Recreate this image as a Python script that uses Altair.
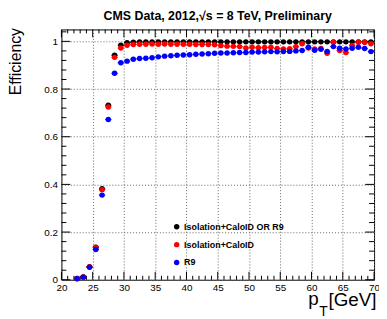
import altair as alt
import pandas as pd

# ---- data ----
pt_bins = [22.5, 23.5, 24.5, 25.5, 26.5, 27.5, 28.5, 29.5,
           30.5, 31.5, 32.5, 33.5, 34.5, 35.5, 36.5, 37.5, 38.5, 39.5,
           40.5, 41.5, 42.5, 43.5, 44.5, 45.5, 46.5, 47.5, 48.5, 49.5,
           50.5, 51.5, 52.5, 53.5, 54.5, 55.5, 56.5, 57.5, 58.5, 59.5,
           60.5, 61.5, 62.5, 63.5, 64.5, 65.5, 66.5, 67.5, 68.5, 69.5]

eff_or = [0.005, 0.012, 0.055, 0.137, 0.382, 0.732, 0.942, 0.984,
          0.994, 0.996, 0.997, 0.997, 0.997, 0.998, 0.998, 0.998, 0.998, 0.998,
          0.998, 0.998, 0.998, 0.998, 0.998, 0.998, 0.998, 0.998, 0.998, 0.998,
          0.998, 0.998, 0.998, 0.998, 0.998, 0.998, 0.998, 0.998, 0.998, 0.998,
          0.998, 0.998, 0.998, 0.998, 0.998, 0.998, 0.998, 0.998, 0.998, 0.998]

eff_iso = [0.005, 0.012, 0.054, 0.135, 0.378, 0.725, 0.933, 0.972,
           0.984, 0.987, 0.988, 0.988, 0.989, 0.988, 0.989, 0.988, 0.988, 0.988,
           0.988, 0.987, 0.987, 0.987, 0.986, 0.982, 0.980, 0.979, 0.978, 0.972,
           0.975, 0.973, 0.974, 0.975, 0.970, 0.968, 0.969, 0.978, 0.990, 0.972,
           0.968, 0.970, 0.950, 0.996, 0.962, 0.953, 0.983, 0.996, 0.995, 0.990]

eff_r9 = [0.004, 0.011, 0.052, 0.127, 0.355, 0.672, 0.866, 0.910,
          0.917, 0.925, 0.928, 0.929, 0.931, 0.935, 0.938, 0.940, 0.942, 0.943,
          0.944, 0.946, 0.947, 0.948, 0.950, 0.951, 0.951, 0.952, 0.953, 0.953,
          0.955, 0.955, 0.956, 0.957, 0.956, 0.957, 0.958, 0.960, 0.962, 0.975,
          0.963, 0.967, 0.958, 0.978, 0.971, 0.968, 0.971, 0.975, 0.970, 0.957]

series_names = ["Isolation+CaloID OR R9", "Isolation+CaloID", "R9"]
series_colors = ["#000000", "#ff0000", "#0000ff"]

x_major = [20, 25, 30, 35, 40, 45, 50, 55, 60, 65, 70]
x_minor = [21, 22, 23, 24, 26, 27, 28, 29, 31, 32, 33, 34, 36, 37, 38, 39,
           41, 42, 43, 44, 46, 47, 48, 49, 51, 52, 53, 54, 56, 57, 58, 59,
           61, 62, 63, 64, 66, 67, 68, 69]
y_major = [0, 0.2, 0.4, 0.6, 0.8, 1.0]
y_minor = [0.04, 0.08, 0.12, 0.16, 0.24, 0.28, 0.32, 0.36, 0.44, 0.48, 0.52,
           0.56, 0.64, 0.68, 0.72, 0.76, 0.84, 0.88, 0.92, 0.96, 1.04]

rows = []
for name, vals in zip(series_names, [eff_or, eff_iso, eff_r9]):
    for p, v in zip(pt_bins, vals):
        rows.append({"pt": p, "eff": v, "series": name})
df = pd.DataFrame(rows)

W, H = 316, 253
FONT = "Liberation Sans"

xscale = alt.Scale(domain=[20, 70], nice=False, zero=False)
yscale = alt.Scale(domain=[0, 1.05], nice=False)

X_AX = alt.Axis(values=x_major, title="[GeV]", labelFlush=False, labelOverlap=False,
                labelPadding=3, titleFontSize=19, titleFont=FONT, titleFontWeight="normal",
                titleAnchor="end", titleAlign="right", titleX=W + 2, titleY=26,
                titleBaseline="alphabetic", titleColor="black")
Y_AX = alt.Axis(values=y_major, format=".1~f", title="Efficiency", labelPadding=4,
                titleFontSize=16, titleFont=FONT, titleFontWeight="normal",
                titleAngle=-90, titleAlign="right", titleBaseline="alphabetic",
                titleX=-41, titleY=-2, titleColor="black")

color_err = alt.Color("series:N", scale=alt.Scale(domain=series_names, range=series_colors),
                      legend=None)
color_pts = alt.Color("series:N", scale=alt.Scale(domain=series_names, range=series_colors),
                      legend=alt.Legend(orient="none", legendX=112, legendY=195, title=None,
                                        labelFont=FONT, labelFontWeight="bold", labelFontSize=9,
                                        labelColor="black", symbolType="circle", symbolSize=30,
                                        symbolStrokeWidth=0, rowPadding=8, labelOffset=3,
                                        padding=0))

errs = alt.Chart(df).transform_calculate(
    lo="datum.pt - 0.5", hi="datum.pt + 0.5"
).mark_rule(strokeWidth=1).encode(
    x=alt.X("lo:Q", scale=xscale, axis=X_AX),
    x2="hi:Q",
    y=alt.Y("eff:Q", scale=yscale, axis=Y_AX),
    color=color_err,
)

pts = alt.Chart(df).mark_point(filled=True, shape="circle", size=30, opacity=1).encode(
    x=alt.X("pt:Q", scale=xscale, axis=X_AX),
    y=alt.Y("eff:Q", scale=yscale, axis=Y_AX),
    color=color_pts,
)

def xticks(vals, y0, y1):
    return alt.Chart(pd.DataFrame({"v": vals})).mark_rule(color="black", strokeWidth=1).encode(
        x=alt.X("v:Q", scale=xscale, axis=X_AX), y=alt.value(y0), y2=alt.value(y1))

def yticks(vals, x0, x1):
    return alt.Chart(pd.DataFrame({"v": vals})).mark_rule(color="black", strokeWidth=1).encode(
        y=alt.Y("v:Q", scale=yscale, axis=Y_AX), x=alt.value(x0), x2=alt.value(x1))

ticks = [
    xticks(x_major, H, H - 8), xticks(x_minor, H, H - 4),
    xticks(x_major, 0, 8), xticks(x_minor, 0, 4),
    yticks(y_major, 0, 9), yticks(y_minor, 0, 5),
    yticks(y_major, W, W - 9), yticks(y_minor, W, W - 5),
]

p_txt = alt.Chart(pd.DataFrame({"t": ["p"]})).mark_text(
    font=FONT, fontSize=19, align="right", baseline="alphabetic", color="black"
).encode(text="t:N", x=alt.value(260), y=alt.value(H + 26))
t_txt = alt.Chart(pd.DataFrame({"t": ["T"]})).mark_text(
    font=FONT, fontSize=14, align="left", baseline="alphabetic", color="black"
).encode(text="t:N", x=alt.value(260.5), y=alt.value(H + 37))

chart = alt.layer(
    *ticks, errs, pts, p_txt, t_txt
).resolve_scale(color="independent").properties(
    width=W, height=H,
    title=alt.TitleParams("CMS Data, 2012,\u221as = 8 TeV, Preliminary", font=FONT, fontSize=12.5,
                          fontWeight="bold", anchor="middle", offset=5, color="black"),
    autosize=alt.AutoSizeParams(type="none"),
    padding={"left": 54, "top": 20, "right": 5, "bottom": 38},
).configure_view(
    stroke="black", strokeWidth=1
).configure_axis(
    labelFont=FONT, labelFontSize=10, labelColor="black", domain=False, ticks=False,
    grid=True, gridDash=[1, 2], gridColor="#666666", gridWidth=1,
)

chart.save("out.html", embed_options={"renderer": "svg", "actions": False})
